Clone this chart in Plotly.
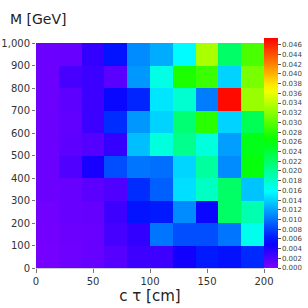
import colorsys
import plotly.graph_objects as go

# bin centers
ctau = [10, 30, 50, 70, 90, 110, 130, 150, 170, 190]
mass = [50, 150, 250, 350, 450, 550, 650, 750, 850, 950]
x_ticks = [0, 50, 100, 150, 200]
y_ticks = [0, 100, 200, 300, 400, 500, 600, 700, 800, 900, 1000]

# rows: mass bins from 0-100 (bottom) to 900-1000 (top)
z_row_0 = [0.0004, 0.0007, 0.0010, 0.0017, 0.0027, 0.0027, 0.0045, 0.0063, 0.0058, 0.0070]
z_row_1 = [0.0005, 0.0008, 0.0010, 0.0024, 0.0032, 0.0101, 0.0085, 0.0085, 0.0101, 0.0165]
z_row_2 = [0.0006, 0.0010, 0.0011, 0.0027, 0.0059, 0.0063, 0.0110, 0.0052, 0.0222, 0.0191]
z_row_3 = [0.0008, 0.0010, 0.0015, 0.0020, 0.0071, 0.0092, 0.0145, 0.0183, 0.0221, 0.0134]
z_row_4 = [0.0008, 0.0020, 0.0043, 0.0085, 0.0101, 0.0098, 0.0141, 0.0198, 0.0110, 0.0261]
z_row_5 = [0.0008, 0.0014, 0.0018, 0.0030, 0.0132, 0.0172, 0.0205, 0.0172, 0.0118, 0.0254]
z_row_6 = [0.0008, 0.0012, 0.0028, 0.0071, 0.0115, 0.0140, 0.0216, 0.0280, 0.0140, 0.0228]
z_row_7 = [0.0008, 0.0014, 0.0028, 0.0052, 0.0068, 0.0148, 0.0177, 0.0104, 0.0470, 0.0327]
z_row_8 = [0.0008, 0.0023, 0.0028, 0.0016, 0.0115, 0.0169, 0.0275, 0.0287, 0.0140, 0.0313]
z_row_9 = [0.0008, 0.0010, 0.0031, 0.0059, 0.0110, 0.0124, 0.0157, 0.0334, 0.0221, 0.0294]

z = [z_row_0, z_row_1, z_row_2, z_row_3, z_row_4,
     z_row_5, z_row_6, z_row_7, z_row_8, z_row_9]

zmax = 0.0474

# rainbow: hue 270 (violet) -> 0 (red)
n = 30
colorscale = []
for i in range(n + 1):
    t = i / n
    r, g, b = colorsys.hsv_to_rgb((270 * (1 - t)) / 360.0, 1, 1)
    colorscale.append([t, f"rgb({int(r*255)},{int(g*255)},{int(b*255)})"])

fig = go.Figure(go.Heatmap(
    x=ctau, y=mass, z=z,
    zmin=0, zmax=zmax,
    colorscale=colorscale,
    colorbar=dict(
        thickness=14, len=230, lenmode="pixels",
        x=1.0, xanchor="left", xpad=0,
        y=0, yanchor="bottom", ypad=0,
        outlinewidth=0,
        tickmode="array",
        tickvals=[i * 0.002 for i in range(24)],
        tickformat=".3f",
        ticks="outside", ticklen=3, tickcolor="#555",
        tickfont=dict(size=7, color="#444", family="DejaVu Sans"),
    ),
))

fig.update_xaxes(
    range=[0, 200], tickvals=x_ticks, ticks="outside", ticklen=4,
    tickcolor="#777", showline=True, linecolor="#ccc", showgrid=False,
    zeroline=False, automargin=False,
    tickfont=dict(size=10, color="#333", family="DejaVu Sans"),
    title=dict(text="c τ [cm]", font=dict(size=15, color="#222", family="DejaVu Sans"), standoff=2),
)
fig.update_yaxes(
    range=[0, 1000], tickvals=y_ticks, tickformat=",d", ticks="outside", ticklen=3,
    tickcolor="#777", showline=False, showgrid=False, zeroline=False,
    automargin=False,
    tickfont=dict(size=10, color="#333", family="DejaVu Sans"),
)

fig.add_annotation(
    text="M [GeV]", xref="paper", yref="paper", x=-0.125, y=1.06,
    xanchor="left", yanchor="bottom", showarrow=False,
    font=dict(size=14, color="#222", family="DejaVu Sans"),
)

fig.update_layout(
    width=308, height=308,
    margin=dict(l=36, r=44, t=43, b=40, autoexpand=False),
    paper_bgcolor="white", plot_bgcolor="white",
    font=dict(family="DejaVu Sans"),
)

fig.write_html(
    "out.html",
    config={"displayModeBar": False},
    post_script="document.body.style.margin='0';document.body.style.overflow='hidden';",
)
